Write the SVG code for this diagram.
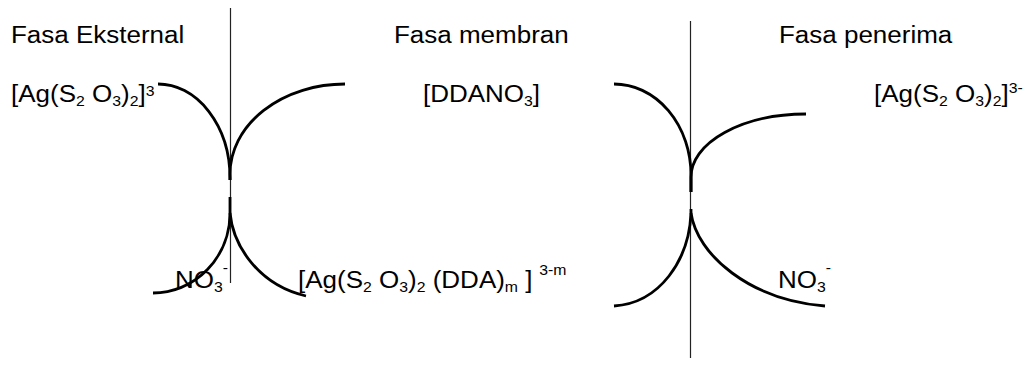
<svg xmlns="http://www.w3.org/2000/svg" width="1031" height="368" viewBox="0 0 1031 368">
  <style>
    text { font-family: "Liberation Sans", Arial, sans-serif; font-size: 23px; fill: #000; white-space: pre; }
    .s { font-size: 14px; }
    .membrane { stroke: #222; stroke-width: 1.2; fill: none; }
    .flux { stroke: #000; stroke-width: 2.8; fill: none; stroke-linecap: butt; }
  </style>
  <rect width="1031" height="368" fill="#fff"/>

  <!-- phase boundaries -->
  <g id="membranes">
    <line class="membrane" x1="230.5" y1="8" x2="230.5" y2="283"/>
    <line class="membrane" x1="690.5" y1="21" x2="690.5" y2="358"/>
  </g>

  <!-- transport paths across each interface -->
  <g id="connectors">
    <path class="flux" d="M158,84 A72,94 0 0 1 230,178 L230,180"/>
    <path class="flux" d="M345,84 A115,90 0 0 0 230,174 L230,180"/>
    <path class="flux" d="M230,197 L230,213 A77,80 0 0 1 153,293"/>
    <path class="flux" d="M230,213 C233,245 258,285 306,296"/>

    <path class="flux" d="M614,84 A77,91 0 0 1 691,175 L691,192"/>
    <path class="flux" d="M806,114 A115,63 0 0 0 691,177 L691,192"/>
    <path class="flux" d="M691,209 L691,213 C689,260 660,303 614,306"/>
    <path class="flux" d="M691,213 C697,255 750,300 825,306"/>
  </g>

  <!-- phase titles -->
  <g id="title-external"><text transform="translate(11,43) scale(1.13,1)">Fasa Eksternal</text></g>
  <g id="title-membrane"><text transform="translate(394,43) scale(1.13,1)">Fasa membran</text></g>
  <g id="title-receiving"><text transform="translate(779,43) scale(1.13,1)">Fasa penerima</text></g>

  <!-- species -->
  <g id="complex-external">
    <text transform="translate(11,102) scale(1.13,1)">[Ag(S<tspan class="s" dy="4">2</tspan><tspan dy="-4"> O</tspan><tspan class="s" dy="4">3</tspan><tspan dy="-4">)</tspan><tspan class="s" dy="4">2</tspan><tspan dy="-4">]</tspan><tspan class="s" dy="-6">3</tspan></text>
  </g>
  <g id="carrier">
    <text transform="translate(423,102) scale(1.13,1)">[DDANO<tspan class="s" dy="4">3</tspan><tspan dy="-4">]</tspan></text>
  </g>
  <g id="complex-receiving">
    <text transform="translate(874,102) scale(1.13,1)">[Ag(S<tspan class="s" dy="4">2</tspan><tspan dy="-4"> O</tspan><tspan class="s" dy="4">3</tspan><tspan dy="-4">)</tspan><tspan class="s" dy="4">2</tspan><tspan dy="-4">]</tspan><tspan class="s" dy="-9">3-</tspan></text>
  </g>
  <g id="nitrate-external">
    <text transform="translate(175,288) scale(1.13,1)">NO<tspan class="s" dy="4">3</tspan><tspan class="s" dy="-19">-</tspan></text>
  </g>
  <g id="complex-membrane">
    <text transform="translate(298,288) scale(1.13,1)">[Ag(S<tspan class="s" dy="4">2</tspan><tspan dy="-4"> O</tspan><tspan class="s" dy="4">3</tspan><tspan dy="-4">)</tspan><tspan class="s" dy="4">2</tspan><tspan dy="-4"> (DDA)</tspan><tspan class="s" dy="4">m</tspan><tspan dy="-4"> ]</tspan><tspan class="s" dx="6" dy="-13">3-m</tspan></text>
  </g>
  <g id="nitrate-receiving">
    <text transform="translate(778,288) scale(1.13,1)">NO<tspan class="s" dy="4">3</tspan><tspan class="s" dy="-19">-</tspan></text>
  </g>
</svg>
